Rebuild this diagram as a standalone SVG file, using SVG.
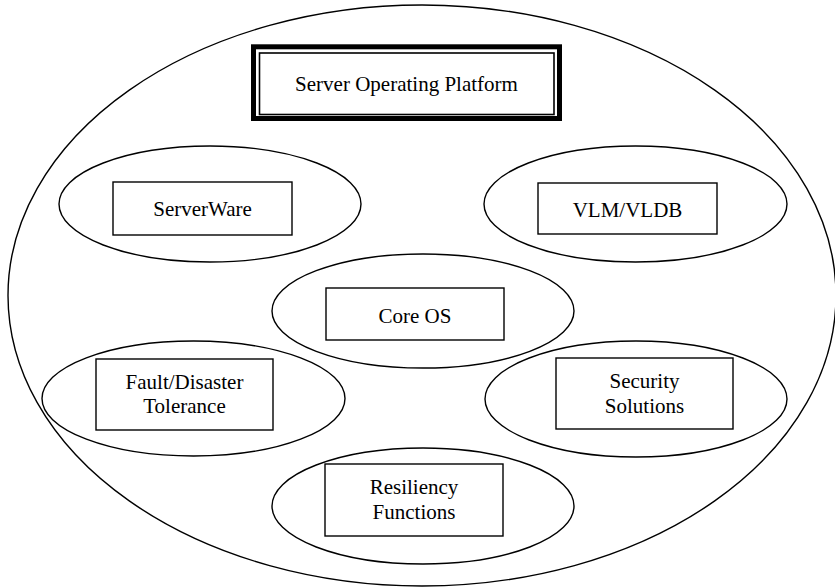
<svg xmlns="http://www.w3.org/2000/svg" width="835" height="588" viewBox="0 0 835 588">
<style>
.e{fill:none;stroke:#000;stroke-width:1.4}
.b{fill:#fff;stroke:#000;stroke-width:1.4}
.t{font-family:"Liberation Serif","Times New Roman",serif;font-size:21px;fill:#000;text-anchor:middle}
</style>
<rect width="835" height="588" fill="#fff"/>
<g id="platform">
<ellipse class="e" cx="422" cy="295.5" rx="414" ry="290.5"/>
<rect x="253.5" y="46.8" width="306" height="71.7" fill="none" stroke="#000" stroke-width="5"/>
<rect x="259.5" y="53" width="294.5" height="61.5" fill="none" stroke="#000" stroke-width="1.6"/>
<text class="t" x="406.5" y="91">Server Operating Platform</text>
</g>
<g id="serverware">
<ellipse class="e" cx="210" cy="204" rx="151" ry="58"/>
<rect class="b" x="113" y="182" width="179" height="53"/>
<text class="t" x="202.5" y="215.5">ServerWare</text>
</g>
<g id="vlm">
<ellipse class="e" cx="635.5" cy="204" rx="151.5" ry="58"/>
<rect class="b" x="538" y="183" width="179" height="51"/>
<text class="t" x="627.5" y="217">VLM/VLDB</text>
</g>
<g id="coreos">
<ellipse class="e" cx="423" cy="311" rx="151" ry="57"/>
<rect class="b" x="326" y="288" width="178" height="52"/>
<text class="t" x="415" y="323">Core OS</text>
</g>
<g id="fault">
<ellipse class="e" cx="193.5" cy="398.5" rx="151.5" ry="57.5"/>
<rect class="b" x="96" y="359" width="177" height="71"/>
<text class="t" x="184.5" y="389">Fault/Disaster</text>
<text class="t" x="184.5" y="413">Tolerance</text>
</g>
<g id="security">
<ellipse class="e" cx="636" cy="399" rx="151" ry="58"/>
<rect class="b" x="556" y="358" width="177" height="71"/>
<text class="t" x="644.5" y="388">Security</text>
<text class="t" x="644.5" y="413">Solutions</text>
</g>
<g id="resiliency">
<ellipse class="e" cx="423" cy="506" rx="151" ry="58"/>
<rect class="b" x="325" y="464" width="178" height="72"/>
<text class="t" x="414" y="494">Resiliency</text>
<text class="t" x="414" y="519">Functions</text>
</g>
<g id="connectors"></g>
</svg>
